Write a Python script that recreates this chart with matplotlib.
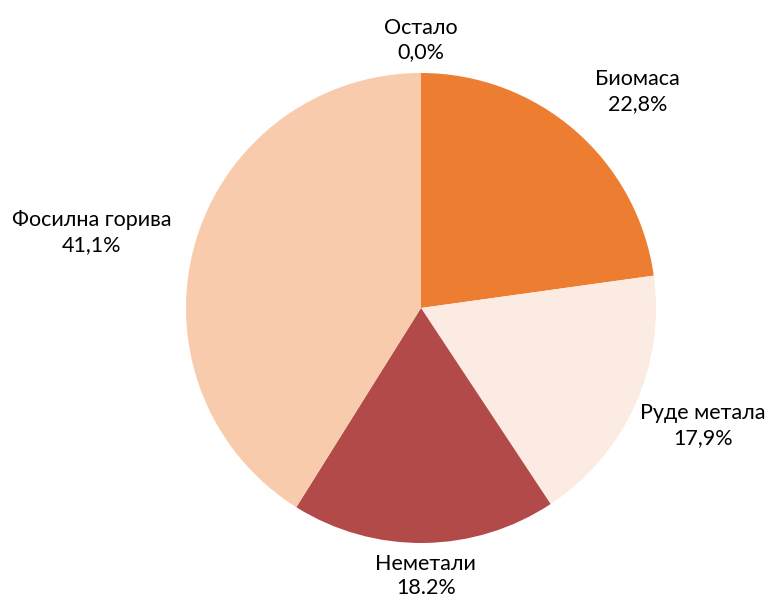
import matplotlib
matplotlib.use("Agg")
import matplotlib.pyplot as plt

plt.rcParams["font.family"] = ["Lato", "DejaVu Sans"]

# ---------------------------------------------------------------------------
# Data (clockwise from 12 o'clock)
# ---------------------------------------------------------------------------
categories = ["Биомаса", "Руде метала", "Неметали", "Фосилна горива", "Остало"]
shares = [22.8, 17.9, 18.2, 41.1, 0.0]
share_labels = ["22,8%", "17,9%", "18.2%", "41,1%", "0,0%"]
colors = ["#ED7D31", "#FBEBE2", "#B34A4A", "#F8CBAD", "#F8CBAD"]

# label anchor offsets from the pie centre, in radii (layout only)
label_pos = [(0.92, 0.92), (1.20, -0.50), (0.02, -1.14),
             (-1.40, 0.32), (0.0, 1.14)]

W, H = 782, 601
fig = plt.figure(figsize=(W / 100, H / 100), dpi=100)
ax = fig.add_axes([0, 0, 1, 1])

cx, cy, r = 421, H - 308, 235
wedges, _ = ax.pie(shares, colors=colors, startangle=90, counterclock=False,
                   center=(cx, cy), radius=r, frame=True,
                   wedgeprops=dict(linewidth=0))
ax.set_xlim(0, W)
ax.set_ylim(0, H)
ax.set_aspect("equal")
ax.axis("off")

for cat, lab, (dx, dy) in zip(categories, share_labels, label_pos):
    ax.text(cx + dx * r, cy + dy * r, f"{cat}\n{lab}", ha="center", va="center",
            fontsize=15.5, linespacing=1.3, color="#000000")

plt.savefig("out.png", dpi=100)
